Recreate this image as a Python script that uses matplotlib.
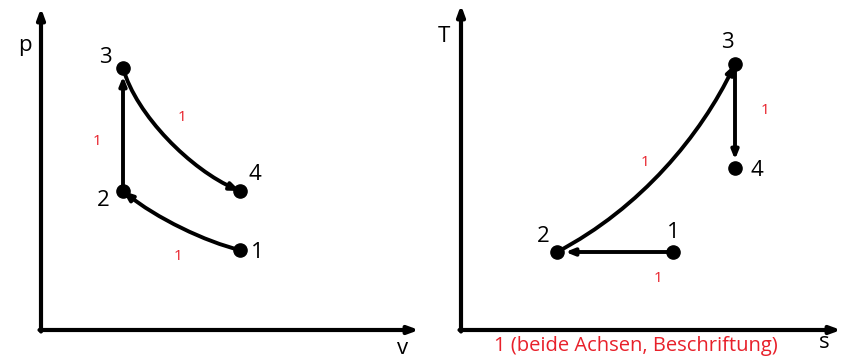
import matplotlib.pyplot as plt
from matplotlib.patches import FancyArrowPatch
from matplotlib.path import Path

plt.rcParams['font.family'] = ['Open Sans', 'DejaVu Sans']

RED = '#e8202a'

# state points (diagram units, origin at the axis corner)
pv_v = [199, 82, 82, 199]          # states 1..4
pv_p = [80, 139, 262, 139]
ts_s = [212, 96, 274, 274]
ts_T = [78, 78, 266, 162]

# cubic control points for the curved process paths
pv_34_ctrl = [(95, 215), (150, 160)]
pv_12_ctrl = [(165, 88), (115, 112)]
ts_23_ctrl = [(180, 122), (240, 195)]

# label offsets for state numbers
pv_lbl_off = [(17, -2), (-20, -9), (-18, 11), (15, 17)]
ts_lbl_off = [(0, 19), (-14, 15), (-8, 22), (22, -3)]

# red score marks (x, y, text)
pv_marks = [(56, 189, '1'), (141, 213, '1'), (137, 73, '1')]
ts_marks = [(304, 220, '1'), (184, 167, '1'), (197, 51, '1')]

fig = plt.figure(figsize=(8.48, 3.57), dpi=100)


def panel(rect, w, h, xlabel, ylabel, xlab_pos, ylab_pos):
    ax = fig.add_axes(rect)
    ax.set_xlim(0, w)
    ax.set_ylim(0, h)
    ax.axis('off')
    style = '-|>,head_length=0.6,head_width=0.22'
    ax.annotate('', xy=(w, 0), xytext=(-1.5, 0),
                arrowprops=dict(arrowstyle=style, lw=3.0, color='black',
                                shrinkA=0, shrinkB=0),
                annotation_clip=False)
    ax.annotate('', xy=(0, h), xytext=(0, -1.5),
                arrowprops=dict(arrowstyle=style, lw=3.0, color='black',
                                shrinkA=0, shrinkB=0),
                annotation_clip=False)
    ax.text(*xlab_pos, xlabel, fontsize=16, ha='center', va='center', clip_on=False)
    ax.text(*ylab_pos, ylabel, fontsize=16, ha='center', va='center', clip_on=False)
    return ax


def line(ax, p0, p1):
    ax.annotate('', xy=p1, xytext=p0,
                arrowprops=dict(arrowstyle='-|>,head_length=0.5,head_width=0.2',
                                lw=2.8, color='black', shrinkA=4, shrinkB=6))


def curve(ax, p0, ctrl, p1):
    path = Path([p0, ctrl[0], ctrl[1], p1],
                [Path.MOVETO, Path.CURVE4, Path.CURVE4, Path.CURVE4])
    ax.add_patch(FancyArrowPatch(path=path,
                                 arrowstyle='-|>,head_length=5.5,head_width=2.2',
                                 lw=2.8, color='black', shrinkA=5, shrinkB=6))


# p-v diagram
ax1 = panel([41 / 848, 27 / 357, 378 / 848, 322 / 357], 378, 322,
            'v', 'p', (362, -18), (-16, 285))
pv = list(zip(pv_v, pv_p))
curve(ax1, pv[0], pv_12_ctrl, pv[1])
line(ax1, pv[1], pv[2])
curve(ax1, pv[2], pv_34_ctrl, pv[3])
ax1.plot(pv_v, pv_p, 'o', color='black', ms=9.5, zorder=5)
for i, (x, y) in enumerate(pv):
    dx, dy = pv_lbl_off[i]
    ax1.text(x + dx, y + dy, str(i + 1), fontsize=16, ha='center', va='center')
for x, y, t in pv_marks:
    ax1.text(x, y, t, fontsize=11, color=RED, ha='center', va='center')

# T-s diagram
ax2 = panel([461 / 848, 27 / 357, 380 / 848, 325 / 357], 380, 325,
            's', 'T', (363, -13), (-17, 293))
ts = list(zip(ts_s, ts_T))
line(ax2, ts[0], ts[1])
curve(ax2, ts[1], ts_23_ctrl, ts[2])
line(ax2, ts[2], ts[3])
ax2.plot(ts_s, ts_T, 'o', color='black', ms=9.5, zorder=5)
for i, (x, y) in enumerate(ts):
    dx, dy = ts_lbl_off[i]
    ax2.text(x + dx, y + dy, str(i + 1), fontsize=16, ha='center', va='center')
for x, y, t in ts_marks:
    ax2.text(x, y, t, fontsize=11, color=RED, ha='center', va='center')
ax2.text(175, -16, '1 (beide Achsen, Beschriftung)', fontsize=14.5, color=RED,
         ha='center', va='center', clip_on=False)

fig.savefig('out.png', dpi=100, facecolor='white')
